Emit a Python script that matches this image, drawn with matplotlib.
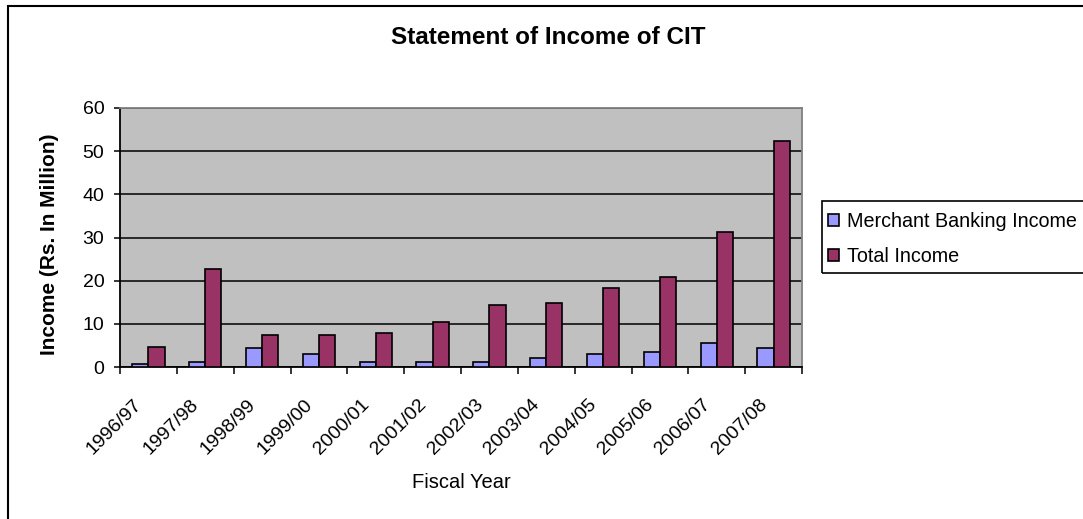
import matplotlib
matplotlib.use("Agg")
import matplotlib.pyplot as plt
import numpy as np
from matplotlib.patches import Rectangle
from matplotlib.transforms import ScaledTranslation

plt.rcParams['font.family'] = ['Liberation Sans', 'DejaVu Sans']

# Fiscal years and income figures (Rs. in million)
years = ["1996/97", "1997/98", "1998/99", "1999/00", "2000/01", "2001/02",
         "2002/03", "2003/04", "2004/05", "2005/06", "2006/07", "2007/08"]
merchant_banking = [0.8, 1.2, 4.3, 2.9, 1.2, 1.2, 1.2, 2.2, 2.9, 3.4, 5.6, 4.3]
total_income = [4.7, 22.6, 7.3, 7.3, 7.8, 10.4, 14.3, 14.8, 18.2, 20.8, 31.3, 52.4]
series_names = ["Merchant Banking Income", "Total Income"]
y_ticks = [0, 10, 20, 30, 40, 50, 60]

W, H, DPI = 1083, 519, 100
fig = plt.figure(figsize=(W / DPI, H / DPI), dpi=DPI)
fig.patch.set_facecolor("white")

# chart border (runs past the right and bottom edges of the canvas)
fig.patches.append(Rectangle((8 / W, -0.2), 1.2, 1.2 - 6 / H,
                             transform=fig.transFigure, fill=False,
                             edgecolor="black", linewidth=1.5))

ax = fig.add_axes([120 / W, 1 - 367 / H, (802 - 120) / W, (367 - 108) / H])
ax.set_facecolor("#C0C0C0")

x = np.arange(len(years))
w = 1 / 3.5
ax.bar(x - w / 2, merchant_banking, w, color="#9999FF", edgecolor="black",
       linewidth=1.2, label=series_names[0], zorder=3)
ax.bar(x + w / 2, total_income, w, color="#993366", edgecolor="black",
       linewidth=1.2, label=series_names[1], zorder=3)

ax.set_xlim(-0.5, len(years) - 0.5)
ax.set_ylim(0, 60)
ax.set_yticks(y_ticks)
ax.yaxis.grid(True, color="black", linewidth=1.1, zorder=1)
ax.set_axisbelow(True)

ax.set_xticks(x)
ax.set_xticklabels(years, rotation=45, ha="right", va="top", fontsize=14)
ax.set_xticks(np.arange(len(years) + 1) - 0.5, minor=True)
ax.tick_params(axis="x", which="major", length=0, pad=21)
ax.tick_params(axis="x", which="minor", length=5, width=1.1, direction="out")
ax.tick_params(axis="y", length=4.3, width=1.1, direction="out", pad=7, labelsize=14)
for lbl in ax.get_xticklabels():
    lbl.set_transform(lbl.get_transform() + ScaledTranslation(-3 / DPI, 0, fig.dpi_scale_trans))

for side in ("left", "bottom"):
    ax.spines[side].set_color("black")
    ax.spines[side].set_linewidth(1.3)
for side in ("top", "right"):
    ax.spines[side].set_color("#808080")
    ax.spines[side].set_linewidth(1.3)

fig.text(548 / W, 1 - 37 / H, "Statement of Income of CIT", ha="center", va="center",
         fontsize=17.5, fontweight="bold")
fig.text(50 / W, 1 - 244 / H, "Income (Rs. In Million)", ha="center", va="center",
         rotation=90, fontsize=15, fontweight="bold")
fig.text(461 / W, 1 - 482 / H, "Fiscal Year", ha="center", va="center", fontsize=14.5)

leg = fig.legend(loc="upper left", bbox_to_anchor=(828 / W, 1 - 212 / H),
                 fontsize=14.2, frameon=False,
                 handlelength=0.55, handleheight=0.55, handletextpad=0.4,
                 borderpad=0, labelspacing=0.8, borderaxespad=0)
# legend box, extending past the right edge of the canvas
fig.patches.append(Rectangle((822 / W, 1 - 273 / H), 300 / W, 72 / H,
                             transform=fig.transFigure, fill=False,
                             edgecolor="black", linewidth=1.2))

fig.savefig("out.png", dpi=DPI)
